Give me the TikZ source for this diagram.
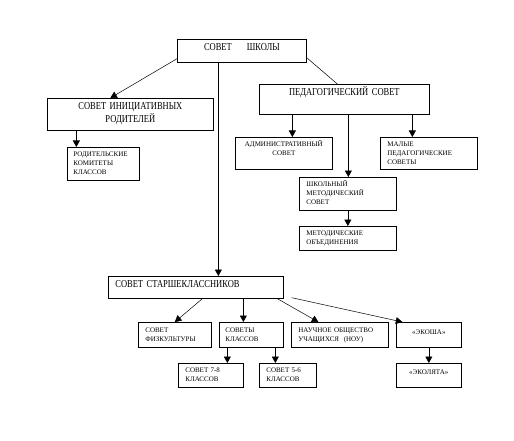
\documentclass[tikz,border=0pt]{standalone}
\usepackage{fontspec}
\setmainfont{Liberation Serif}
\newfontfamily\condserif[FakeStretch=0.8]{Liberation Serif}
\usetikzlibrary{arrows.meta}

\newcommand{\bigtxt}{\condserif\fontsize{10.6}{10}\selectfont}
\newcommand{\smalltxt}{\fontsize{7}{9}\selectfont}

\begin{document}
\begin{tikzpicture}[x=1pt, y=-1pt,
    box/.style={draw, line width=0.7pt, rectangle, anchor=north west, inner ysep=0pt, font=\smalltxt},
    leftbox/.style={box, align=left, inner xsep=7pt},
    midbox/.style={box, align=center, inner xsep=3pt},
    arr/.style={-{Triangle[length=6.5pt, width=7pt]}, line width=0.6pt},
    link/.style={line width=0.5pt}]
    \useasboundingbox (0,0) rectangle (514,441);

    % top level
    \node[midbox, font=\bigtxt, text width=123pt, text height=11.3pt, text depth=11.7pt] (school) at (177,39) {СОВЕТ\hspace{15pt}ШКОЛЫ};

    \node[midbox, font=\bigtxt, text width=160pt, text height=11.5pt, text depth=20.5pt] (parents) at (47,98) {СОВЕТ ИНИЦИАТИВНЫХ\\РОДИТЕЛЕЙ};
    \node[leftbox, inner xsep=6pt, text width=60pt, text height=9.3pt, text depth=23.7pt] (rodkom) at (67,147) {РОДИТЕЛЬСКИЕ\\КОМИТЕТЫ\\КЛАССОВ};

    \node[midbox, font=\bigtxt, text width=164pt, text height=11.5pt, text depth=18.5pt] (pedsovet) at (259,84) {ПЕДАГОГИЧЕСКИЙ СОВЕТ};
    \node[midbox, text width=91pt, text height=9.3pt, text depth=22.7pt] (admin) at (235,137) {АДМИНИСТРАТИВНЫЙ\\СОВЕТ};
    \node[leftbox, text width=83pt, text height=9.3pt, text depth=22.7pt] (malye) at (380,137) {МАЛЫЕ\\ПЕДАГОГИЧЕСКИЕ\\СОВЕТЫ};
    \node[leftbox, text width=83pt, text height=9.3pt, text depth=23.7pt] (metsovet) at (299,177) {ШКОЛЬНЫЙ\\МЕТОДИЧЕСКИЙ\\СОВЕТ};
    \node[leftbox, text width=83pt, text height=9.3pt, text depth=14.7pt] (metob) at (299,226) {МЕТОДИЧЕСКИЕ\\ОБЪЕДИНЕНИЯ};

    % pupils
    \node[leftbox, font=\bigtxt, text width=161pt, text height=11.5pt, text depth=10.5pt] (senior) at (108,276) {СОВЕТ СТАРШЕКЛАССНИКОВ};
    \node[leftbox, text width=59pt, text height=10.3pt, text depth=14.7pt] (sport) at (138,322) {СОВЕТ\\ФИЗКУЛЬТУРЫ};
    \node[leftbox, inner xsep=6pt, text width=52pt, text height=10.3pt, text depth=14.7pt] (classes) at (219,322) {СОВЕТЫ\\КЛАССОВ};
    \node[leftbox, text width=83pt, text height=10.3pt, text depth=14.7pt] (nou) at (291,322) {НАУЧНОЕ ОБЩЕСТВО\\УЧАЩИХСЯ\ \ (НОУ)};
    \node[midbox, text width=59pt, text height=12.3pt, text depth=12.7pt] (ekosha) at (396,322) {«ЭКОША»};
    \node[leftbox, text width=51pt, text height=9.3pt, text depth=14.7pt] (cl78) at (178,363) {СОВЕТ 7-8\\КЛАССОВ};
    \node[leftbox, text width=43pt, text height=9.3pt, text depth=14.7pt] (cl56) at (259,363) {СОВЕТ 5-6\\КЛАССОВ};
    \node[midbox, text width=59pt, text height=11.3pt, text depth=12.7pt] (ekolyata) at (396,363) {«ЭКОЛЯТА»};

    \coordinate (ekostart) at ([xshift=8pt, yshift=1pt]senior.south east);

    % connectors
    \draw[arr, link] ([yshift=4pt]school.south west) -- ([xshift=-20pt]parents.north);
    \draw[arr] ([xshift=-23.5pt]school.south) -- ([xshift=-23.5pt]school.south |- senior.north);
    \draw[link] ([yshift=5pt]school.south east) -- ([xshift=-7pt]pedsovet.north);

    \draw[arr] ([xshift=-54pt]parents.south) -- ([xshift=-54pt]parents.south |- rodkom.north);

    \draw[arr] ([xshift=-52pt]pedsovet.south) -- ([xshift=-52pt]pedsovet.south |- admin.north);
    \draw[arr] ([xshift=4pt]pedsovet.south) -- ([xshift=4pt]pedsovet.south |- metsovet.north);
    \draw[arr] ([xshift=68pt]pedsovet.south) -- ([xshift=68pt]pedsovet.south |- malye.north);
    \draw[arr] (metsovet.south) -- (metsovet.south |- metob.north);

    \draw[arr, link] ([xshift=6.5pt]senior.south) -- (sport.north);
    \draw[arr] ([xshift=47.5pt]senior.south) -- ([xshift=47.5pt]senior.south |- classes.north);
    \draw[arr, link] ([xshift=81.5pt]senior.south) -- ([xshift=-21.5pt]nou.north);
    \draw[arr, link] (ekostart) -- ([xshift=-26.5pt]ekosha.north);

    \draw[arr] ([xshift=-24pt]classes.south) -- ([xshift=-24pt]classes.south |- cl78.north);
    \draw[arr] ([xshift=24pt]classes.south) -- ([xshift=24pt]classes.south |- cl56.north);
    \draw[arr] (ekosha.south) -- (ekosha.south |- ekolyata.north);
\end{tikzpicture}
\end{document}
